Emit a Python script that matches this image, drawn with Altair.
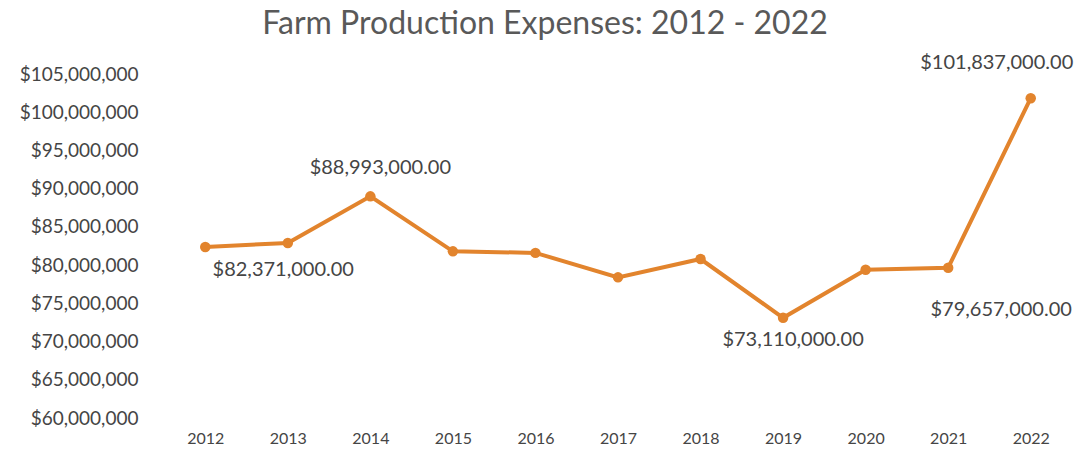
import altair as alt
import pandas as pd

years = ["2012", "2013", "2014", "2015", "2016", "2017", "2018", "2019", "2020", "2021", "2022"]
expenses = [82371000, 82900000, 88993000, 81800000, 81600000, 78400000, 80800000,
            73110000, 79400000, 79657000, 101837000]

df = pd.DataFrame({"year": years, "value": expenses})

FONT = "Lato"
ORANGE = "#E2842D"
TEXT = "#595959"
DARK = "#454545"

x = alt.X("year:O", title=None,
          scale=alt.Scale(type="point", padding=0.5),
          axis=alt.Axis(labelAngle=0, domain=False, ticks=False, labelFont=FONT,
                        labelFontSize=16, labelColor=DARK, labelPadding=12))
y = alt.Y("value:Q", title=None,
          scale=alt.Scale(domain=[60000000, 105000000], nice=False, zero=False),
          axis=alt.Axis(format="$,.0f", values=list(range(60000000, 105000001, 5000000)),
                        domain=False, ticks=False, grid=False, labelFont=FONT,
                        labelFontSize=19, labelColor=DARK, labelPadding=26))

base = alt.Chart(df).encode(x=x, y=y)

line = base.mark_line(color=ORANGE, strokeWidth=4)
pts = base.mark_point(color=ORANGE, filled=True, size=110, opacity=1)


def label(year, dx, dy):
    return alt.Chart(df).transform_filter(alt.datum.year == year).mark_text(
        font=FONT, fontSize=20, color=DARK, dx=dx, dy=dy
    ).encode(x=x, y=y, text=alt.Text("value:Q", format="$,.2f"))


labels = [
    label("2012", 78, 23),
    label("2014", 10, -28),
    label("2019", 10, 22),
    label("2021", 53, 42),
    label("2022", -34, -35),
]

chart = alt.layer(line, pts, *labels).properties(
    width=908, height=344,
    autosize=alt.AutoSizeParams(type="none"),
    padding={"left": 164, "top": 74, "right": 14, "bottom": 39},
    title=alt.TitleParams("Farm Production Expenses: 2012 - 2022", font=FONT, fontSize=32,
                          fontWeight="normal", color=TEXT, anchor="middle", dx=-73, offset=12),
).configure_view(stroke=None)

chart.save("out.html", embed_options={"renderer": "svg", "actions": False})
